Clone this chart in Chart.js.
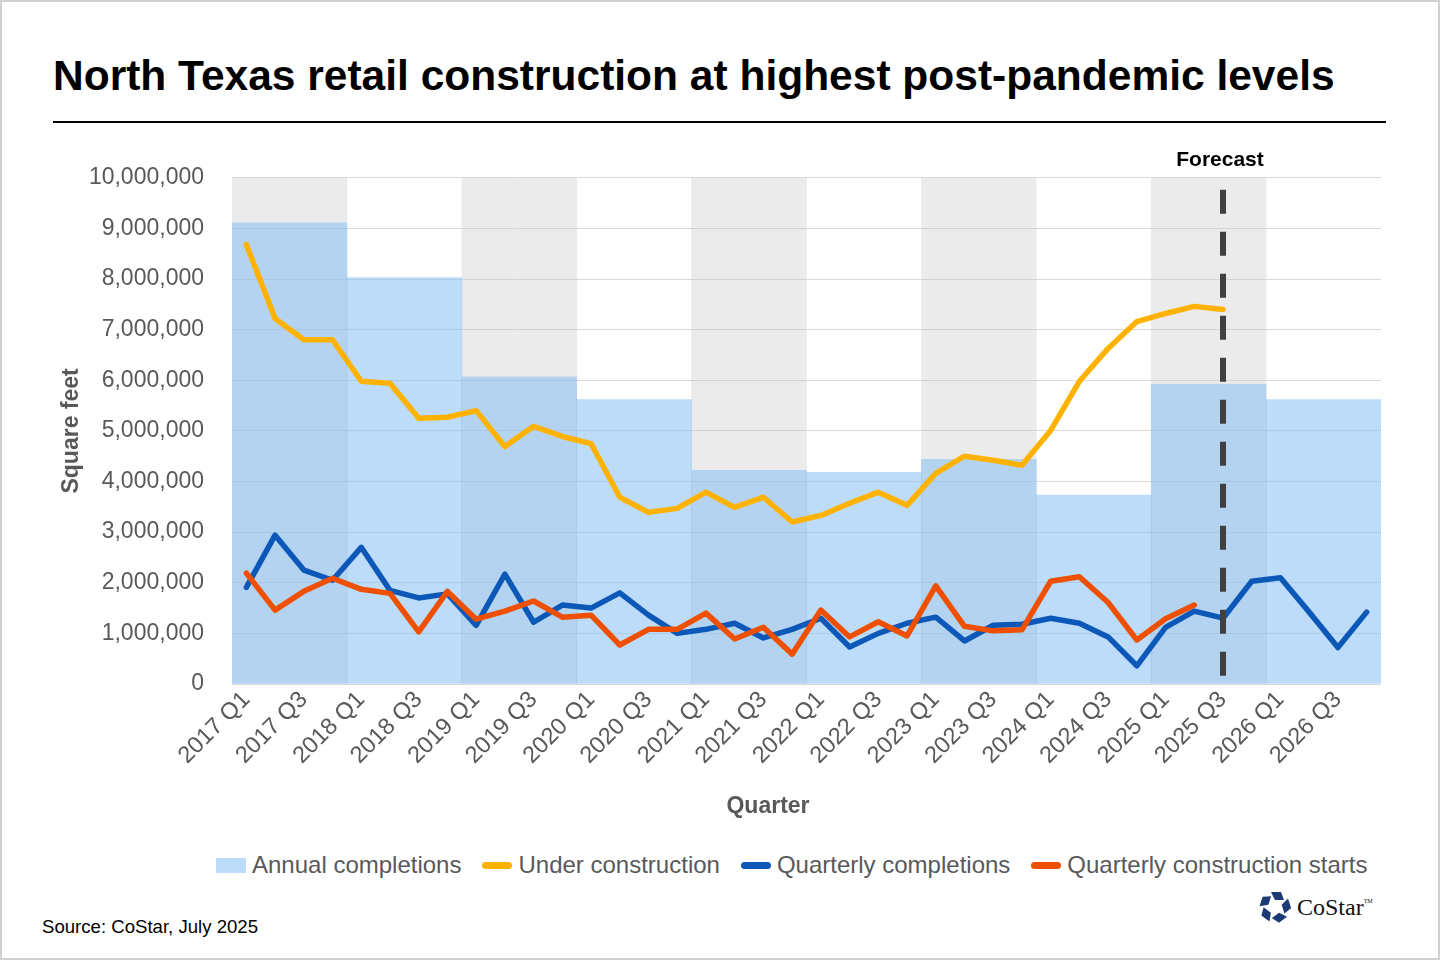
<!DOCTYPE html>
<html>
<head>
<meta charset="utf-8">
<title>North Texas retail construction</title>
<script src="https://cdn.jsdelivr.net/npm/chart.js@4.4.1/dist/chart.umd.min.js"></script>
<style>
  html, body { margin: 0; padding: 0; background: #fff; }
  body { width: 1440px; height: 960px; position: relative; overflow: hidden; font-family: "Liberation Sans", Arial, sans-serif; }
  .frame { position: absolute; left: 0; top: 0; width: 1436px; height: 956px; border: 2px solid #d0d0d0; }
  h1 { position: absolute; left: 53px; top: 55px; margin: 0; font-size: 42.5px; line-height: 1; font-weight: bold; color: #000; white-space: nowrap; }
  .rule { position: absolute; left: 53px; top: 121px; width: 1333px; height: 2px; background: #000; }
  #wrap { position: absolute; left: 0; top: 136px; width: 1440px; height: 664px; }
  .xtitle { position: absolute; left: 768px; top: 805px; transform: translate(-50%, -50%); font-size: 23px; font-weight: bold; color: #595959; }
  #legend { position: absolute; left: 216px; top: 865px; transform: translateY(-50%); display: flex; align-items: center; font-size: 24px; color: #595959; white-space: nowrap; }
  #legend .item { display: flex; align-items: center; margin-right: 21px; }
  #legend .item:last-child { margin-right: 0; }
  #legend .box { width: 30px; height: 15px; margin-right: 6px; }
  #legend .line { width: 30px; height: 7px; border-radius: 4px; margin-right: 6px; }
  .source { position: absolute; left: 42px; top: 927px; transform: translateY(-50%); font-size: 18.6px; color: #000; }
  .logo { position: absolute; left: 1259px; top: 891px; display: flex; align-items: center; }
  .logo span { font-family: "Liberation Serif", "DejaVu Serif", serif; font-size: 24px; color: #111; margin-left: 6px; }
  .logo sup { font-size: 6px; vertical-align: 12px; }
</style>
</head>
<body>
<div class="frame"></div>
<h1>North Texas retail construction at highest post-pandemic levels</h1>
<div class="rule"></div>
<div id="wrap"><canvas id="chart"></canvas></div>
<div class="xtitle">Quarter</div>
<div id="legend"></div>
<div class="source">Source: CoStar, July 2025</div>
<div class="logo">
  <svg width="32" height="32" viewBox="-16 -16 32 32">
    <g fill="#1c3a74">
      <polygon points="-4,-15 6,-15 9,-7 0,-7" transform="rotate(0)"/>
      <polygon points="-4,-15 6,-15 9,-7 0,-7" transform="rotate(72)"/>
      <polygon points="-4,-15 6,-15 9,-7 0,-7" transform="rotate(144)"/>
      <polygon points="-4,-15 6,-15 9,-7 0,-7" transform="rotate(216)"/>
      <polygon points="-4,-15 6,-15 9,-7 0,-7" transform="rotate(288)"/>
    </g>
  </svg>
  <span>CoStar<sup>TM</sup></span>
</div>

<script>
// quarters and years on the x axis
const years = ['2017', '2018', '2019', '2020', '2021', '2022', '2023', '2024', '2025', '2026'];
const quarters = ['Q1', 'Q2', 'Q3', 'Q4'];
const shadedYears = ['2017', '2019', '2021', '2023', '2025'];
const forecastQuarter = '2025 Q3';

// square feet, one value per year
const annualCompletions = [9110000, 8030000, 6070000, 5620000, 4220000, 4180000, 4440000, 3730000, 5920000, 5620000];

// square feet, one value per quarter from 2017 Q1
const underConstruction = [
  8680000, 7220000, 6800000, 6800000, 5980000, 5940000, 5250000, 5270000,
  5400000, 4690000, 5090000, 4890000, 4750000, 3690000, 3390000, 3470000,
  3790000, 3490000, 3690000, 3200000, 3330000, 3570000, 3790000, 3530000,
  4160000, 4500000, 4420000, 4320000, 5010000, 5980000, 6630000, 7160000,
  7320000, 7460000, 7400000
];
const quarterlyCompletions = [
  1910000, 2940000, 2250000, 2050000, 2700000, 1850000, 1700000, 1780000,
  1160000, 2170000, 1220000, 1560000, 1500000, 1800000, 1360000, 1000000,
  1080000, 1200000, 910000, 1080000, 1300000, 730000, 1000000, 1200000,
  1320000, 850000, 1160000, 1180000, 1300000, 1200000, 930000, 360000,
  1120000, 1440000, 1300000, 2030000, 2100000, 1420000, 720000, 1420000
];
const constructionStarts = [
  2190000, 1460000, 1830000, 2090000, 1870000, 1790000, 1030000, 1830000,
  1280000, 1440000, 1640000, 1320000, 1360000, 770000, 1080000, 1080000,
  1400000, 890000, 1120000, 590000, 1460000, 930000, 1230000, 950000,
  1940000, 1140000, 1050000, 1070000, 2030000, 2120000, 1610000, 870000,
  1290000, 1560000
];

const yMax = 10000000;
const quarterLabels = [];
years.forEach(y => quarters.forEach(q => quarterLabels.push(y + ' ' + q)));
const bandData = years.map(y => shadedYears.includes(y) ? yMax : null);

const textGray = '#595959';
const fontFamily = '"Liberation Sans", Arial, sans-serif';
const lineWidth = 5.5;

const forecastPlugin = {
  id: 'forecast',
  afterDatasetsDraw(chart) {
    const ctx = chart.ctx;
    const xScale = chart.scales.x;
    const x = xScale.getPixelForValue(quarterLabels.indexOf(forecastQuarter));
    const area = chart.chartArea;
    ctx.save();
    ctx.strokeStyle = '#404040';
    ctx.lineWidth = 6;
    ctx.setLineDash([24, 18]);
    ctx.beginPath();
    ctx.moveTo(x, area.top + 12);
    ctx.lineTo(x, area.bottom);
    ctx.stroke();
    ctx.setLineDash([]);
    ctx.fillStyle = '#000';
    ctx.font = 'bold 21px ' + fontFamily;
    ctx.textAlign = 'center';
    ctx.textBaseline = 'middle';
    ctx.fillText('Forecast', x - 3, area.top - 18);
    ctx.restore();
  }
};

const chart = new Chart(document.getElementById('chart'), {
  data: {
    labels: quarterLabels,
    datasets: [
      {
        type: 'bar', label: 'Year band', data: bandData, xAxisID: 'xYear',
        backgroundColor: 'rgba(200,200,200,0.36)', grouped: false,
        barPercentage: 1, categoryPercentage: 1, order: 5, inLegend: false
      },
      {
        type: 'bar', label: 'Annual completions', data: annualCompletions, xAxisID: 'xYear',
        backgroundColor: 'rgba(135,191,244,0.55)', legendColor: '#bddcf9', grouped: false,
        barPercentage: 1, categoryPercentage: 1, order: 4, inLegend: true
      },
      {
        type: 'line', label: 'Under construction', data: underConstruction, xAxisID: 'x',
        borderColor: '#ffb300', borderWidth: lineWidth, pointRadius: 0, tension: 0,
        borderJoinStyle: 'round', borderCapStyle: 'round', order: 3, inLegend: true
      },
      {
        type: 'line', label: 'Quarterly completions', data: quarterlyCompletions, xAxisID: 'x',
        borderColor: '#0b58b8', borderWidth: lineWidth, pointRadius: 0, tension: 0,
        borderJoinStyle: 'round', borderCapStyle: 'round', order: 2, inLegend: true
      },
      {
        type: 'line', label: 'Quarterly construction starts', data: constructionStarts, xAxisID: 'x',
        borderColor: '#ee5000', borderWidth: lineWidth, pointRadius: 0, tension: 0,
        borderJoinStyle: 'round', borderCapStyle: 'round', order: 1, inLegend: true
      }
    ]
  },
  options: {
    responsive: true,
    maintainAspectRatio: false,
    animation: false,
    layout: { padding: { top: 33, right: 59, left: 0, bottom: 0 } },
    plugins: { legend: { display: false }, tooltip: { enabled: false } },
    scales: {
      x: {
        type: 'category',
        offset: true,
        grid: { display: false },
        border: { display: false },
        ticks: {
          autoSkip: false,
          maxRotation: 45,
          minRotation: 45,
          padding: -6,
          color: textGray,
          font: { family: fontFamily, size: 23.5 },
          callback: (v, i) => i % 2 === 0 ? quarterLabels[i] : ''
        },
        afterFit: s => { s.height = 116; }
      },
      xYear: {
        type: 'category',
        labels: years,
        offset: true,
        display: false
      },
      y: {
        min: 0,
        max: yMax,
        grid: { color: '#d9d9d9', lineWidth: 1, drawTicks: false },
        border: { display: false },
        ticks: {
          stepSize: 1000000,
          padding: 28,
          color: textGray,
          font: { family: fontFamily, size: 23 },
          callback: v => v.toLocaleString('en-US')
        },
        title: {
          display: true,
          text: 'Square feet',
          color: textGray,
          font: { family: fontFamily, size: 23, weight: 'bold' },
          padding: { top: 58, bottom: 0 }
        },
        afterFit: s => { s.width = 232; }
      }
    }
  },
  plugins: [forecastPlugin]
});

// legend built from the chart's own datasets
const legend = document.getElementById('legend');
chart.data.datasets.filter(d => d.inLegend).forEach(d => {
  const item = document.createElement('div');
  item.className = 'item';
  const mark = document.createElement('div');
  mark.className = d.type === 'bar' ? 'box' : 'line';
  mark.style.background = d.type === 'bar' ? d.legendColor : d.borderColor;
  item.appendChild(mark);
  const txt = document.createElement('span');
  txt.textContent = d.label;
  item.appendChild(txt);
  legend.appendChild(item);
});
</script>
</body>
</html>
